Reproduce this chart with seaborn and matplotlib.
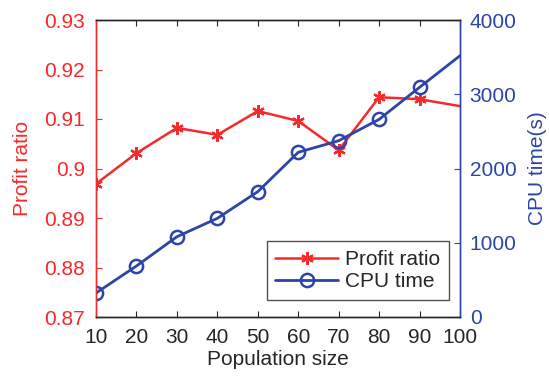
import matplotlib
matplotlib.use("Agg")
import matplotlib.pyplot as plt
from matplotlib.lines import Line2D
import seaborn as sns
import pandas as pd

sns.set_style("white")
plt.rcParams['font.family'] = ['Liberation Sans', 'DejaVu Sans']

population = [10, 20, 30, 40, 50, 60, 70, 80, 90, 100]
profit_ratio = [0.8969, 0.9031, 0.9082, 0.9068, 0.9116, 0.9096, 0.9037, 0.9144, 0.9140, 0.9126]
cpu_time = [323, 687, 1081, 1329, 1688, 2218, 2374, 2662, 3093, 3519]

red = '#F52A2A'
blue = '#2D44A8'
fs = 15

df = pd.DataFrame({'pop': population, 'profit': profit_ratio, 'cpu': cpu_time})
shown = list(range(len(population) - 1))

star_style = dict(color=red, marker=(6, 2, 0), markersize=9, markeredgewidth=1.6,
                  markeredgecolor=red, linewidth=1.8)
circ_style = dict(color=blue, marker='o', markersize=9.5, markerfacecolor='none',
                  markeredgewidth=1.8, markeredgecolor=blue, linewidth=2.0)

fig = plt.figure(figsize=(5.49, 3.81), dpi=100)
ax = fig.add_axes([96/549, 1-317/381, (460-96)/549, (317-20)/381])
ax2 = ax.twinx()

sns.lineplot(data=df, x='pop', y='profit', ax=ax, markevery=shown, legend=False, **star_style)
sns.lineplot(data=df, x='pop', y='cpu', ax=ax2, markevery=shown, legend=False, **circ_style)

ax.set_xlim(10, 100)
ax.set_ylim(0.87, 0.93)
ax2.set_ylim(0, 4000)
ax.set_xticks(population)
ax.set_yticks([0.87, 0.88, 0.89, 0.90, 0.91, 0.92, 0.93])
ax.set_yticklabels(['0.87', '0.88', '0.89', '0.9', '0.91', '0.92', '0.93'])
ax2.set_yticks([0, 1000, 2000, 3000, 4000])

ax.set_xlabel('Population size', fontsize=fs, color='#262626', labelpad=2)
ax.set_ylabel('Profit ratio', fontsize=fs, color=red, labelpad=9)
ax2.set_ylabel('CPU time(s)', fontsize=fs, color=blue, labelpad=8)

ax.tick_params(axis='x', direction='in', length=4, colors='#262626', labelsize=fs, top=True, pad=8)
ax.tick_params(axis='y', direction='in', length=4, colors=red, labelsize=fs, pad=8)
ax2.tick_params(axis='y', direction='in', length=4, colors=blue, labelsize=fs, pad=7)
ax2.tick_params(axis='x', top=False)

for a in (ax, ax2):
    a.spines['top'].set_color('#262626')
    a.spines['bottom'].set_color('#262626')
    a.spines['left'].set_color(red)
    a.spines['right'].set_color(blue)
    for s in a.spines.values():
        s.set_linewidth(1.0)
ax.xaxis.set_ticks_position('both')

handles = [Line2D([], [], **star_style), Line2D([], [], **circ_style)]
leg = ax2.legend(handles, ['Profit ratio', 'CPU time'], loc='lower right', numpoints=1,
                 bbox_to_anchor=(0.97, 0.057), fontsize=fs, frameon=True, fancybox=False,
                 edgecolor='#262626', handlelength=3.0, borderpad=0.42, labelspacing=0.15,
                 handletextpad=0.35, borderaxespad=0)
leg.get_frame().set_linewidth(1.0)

fig.savefig('out.png', dpi=100)
